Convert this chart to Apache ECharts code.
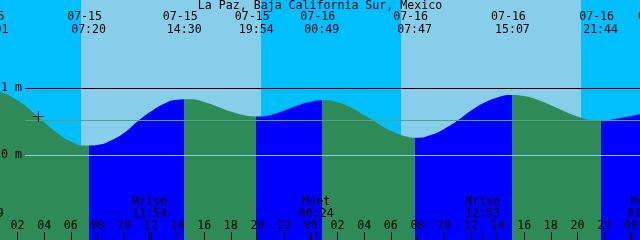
<!DOCTYPE html>
<html>
<head>
<meta charset="utf-8">
<script src="https://cdn.jsdelivr.net/npm/echarts@6/dist/echarts.min.js"></script>
<style>
html,body{margin:0;padding:0;background:#00BFFF;}
#c{width:640px;height:240px;}
</style>
</head>
<body>
<div id="c"></div>
<script>
// ---- data (hours counted from 07-15 00:00) ----
const title = 'La Paz, Baja California Sur, Mexico';

const tideDates  = ['07-15','07-15','07-15','07-15','07-16','07-16','07-16','07-16','07-17'];
const tideTimes  = ['00:01','07:20','14:30','19:54','00:49','07:47','15:07','21:44','02:09'];
const tideLevels = [0.96, 0.14, 0.84, 0.58, 0.82, 0.26, 0.90, 0.52, 0.70];

// water level, one value per hour (m)
const curveHours  = [-3,-2,-1,0,1,2,3,4,5,6,7,8,9,10,11,12,13,14,15,16,17,18,19,20,21,22,23,24,25,26,27,28,29,30,31,32,33,34,35,36,37,38,39,40,41,42,43,44,45,46,47,48,49,50,51,52];
const curveLevels = [0.80,0.88,0.94,0.96,0.924,0.82,0.669,0.494,0.331,0.206,0.145,0.155,0.22,0.335,0.505,0.652,0.77,0.83,0.835,0.794,0.725,0.652,0.597,0.58,0.603,0.668,0.742,0.80,0.82,0.79,0.715,0.60,0.48,0.365,0.29,0.262,0.303,0.394,0.519,0.665,0.785,0.864,0.90,0.884,0.829,0.748,0.659,0.581,0.531,0.523,0.548,0.585,0.63,0.67,0.69,0.70];

const moonNames = ['Mset','Mrise','Mset','Mrise','Mset'];
const moonDates = ['07-14','07-15','07-16','07-16','07-17'];
const moonTimes = ['23:39','11:54','00:24','12:53','01:02'];

const sunDates     = ['07-15','07-16'];
const sunriseTimes = ['06:46','06:46'];
const sunsetTimes  = ['20:16','20:16'];

const hourTicks = [0,2,4,6,8,10,12,14,16,18,20,22,24,26,28,30,32,34,36,38,40,42,44,46,48,50];
const midnightTicks = [0,24,48];

const levelMarks = [1, 0];
const levelMarkLabels = ['1 m', '0 m'];
const meanLevel = 0.52;
const nowDate = '07-15', nowTime = '03:34', nowLevel = 0.58;

// ---- helpers ----
function toHour(date, time) {
  const day = parseInt(date.slice(3), 10) - 15;
  const [hh, mm] = time.split(':').map(Number);
  return day * 24 + hh + mm / 60;
}
const pad2 = n => String(n).padStart(2, '0');
function nearestIndex(arr, v) {
  let best = 0;
  for (let i = 1; i < arr.length; i++) if (Math.abs(arr[i] - v) < Math.abs(arr[best] - v)) best = i;
  return best;
}

const tideHours = tideDates.map((d, i) => toHour(d, tideTimes[i]));
const moonHours = moonDates.map((d, i) => toHour(d, moonTimes[i]));
const dayBands = sunDates.map((d, i) => [toHour(d, sunriseTimes[i]), toHour(d, sunsetTimes[i])]);

// ---- layout constants ----
const FONT = 'DejaVu Sans Mono';
const FS = 11.6;
const EXTRA = 40;                 // px of plot hidden beyond each canvas edge
const PX_PER_H = 640 / 48;
const X0 = 0.6875;                // hour at canvas left edge
const xMin = X0 - EXTRA / PX_PER_H;
const xMax = X0 + (640 + EXTRA) / PX_PER_H;
const yMin = -1.264, yMax = 2.318;
const lineStartHour = X0 + 25 / PX_PER_H;

const GREEN = '#2E8B57', BLUE = '#0000FF', DAY = '#87CEEB', NIGHT = '#00BFFF';

// flood (rising, blue) / ebb (falling, green) pieces from tide extremes
const pieces = [];
for (let i = 0; i <= tideHours.length; i++) {
  let rising;
  if (i === 0) rising = tideLevels[0] > tideLevels[1];
  else if (i === tideHours.length) rising = tideLevels[i - 1] < tideLevels[i - 2];
  else rising = tideLevels[i] > tideLevels[i - 1];
  const p = { color: rising ? BLUE : GREEN };
  if (i > 0) p.gte = tideHours[i - 1];
  if (i < tideHours.length) p.lt = tideHours[i];
  pieces.push(p);
}

const txt = { fontFamily: FONT, fontSize: FS, color: '#000' };
const noLine = { show: false, onZero: false };

const chart = echarts.init(document.getElementById('c'), null, { renderer: 'canvas' });
chart.setOption({
  animation: false,
  backgroundColor: NIGHT,
  title: {
    text: title, left: 'center', top: 0, padding: 0,
    textStyle: Object.assign({ fontWeight: 'normal', lineHeight: 12 }, txt)
  },
  grid: {
    left: -EXTRA, right: -EXTRA, top: 0, bottom: 0,
    containLabel: false, outerBoundsMode: 'none',
    show: true, backgroundColor: NIGHT, borderWidth: 0
  },
  visualMap: {
    type: 'piecewise', show: false, dimension: 0, seriesIndex: 1, pieces: pieces
  },
  xAxis: [
    { // hour ticks + labels
      type: 'value', min: xMin, max: xMax, position: 'bottom', z: 10,
      axisLine: noLine, splitLine: { show: false },
      axisTick: { show: true, inside: true, length: 8, customValues: hourTicks,
        lineStyle: { color: '#000', width: 1 } },
      axisLabel: Object.assign({ show: true, inside: true, margin: 8, lineHeight: 12,
        customValues: hourTicks, formatter: v => pad2(Math.round(v) % 24) }, txt)
    },
    { // tide extremes on top
      type: 'value', min: xMin, max: xMax, position: 'top', z: 10,
      axisLine: noLine, splitLine: { show: false }, axisTick: { show: false },
      axisLabel: {
        show: true, inside: true, margin: 11, customValues: tideHours,
        formatter: v => { const i = nearestIndex(tideHours, v); return '{d|' + tideDates[i] + '}\n{t|' + tideTimes[i] + '}'; },
        rich: {
          d: Object.assign({ lineHeight: 12.5, padding: [0, 8, 0, 0] }, txt),
          t: Object.assign({ lineHeight: 12.5 }, txt)
        }
      }
    },
    { // moon events
      type: 'value', min: xMin, max: xMax, position: 'bottom', z: 10,
      axisLine: noLine, splitLine: { show: false },
      axisTick: { show: true, inside: true, length: 8, customValues: moonHours,
        lineStyle: { color: '#000', width: 1 } },
      axisLabel: Object.assign({ show: true, inside: true, margin: 20.5, lineHeight: 12,
        customValues: moonHours,
        formatter: v => { const i = nearestIndex(moonHours, v); return moonNames[i] + '\n' + moonTimes[i]; } }, txt)
    },
    { // midnight ticks
      type: 'value', min: xMin, max: xMax, position: 'bottom', z: 10,
      axisLine: noLine, splitLine: { show: false },
      axisTick: { show: true, inside: true, length: 8, customValues: midnightTicks,
        lineStyle: { color: '#000', width: 2 } },
      axisLabel: { show: false }
    }
  ],
  yAxis: { type: 'value', min: yMin, max: yMax, show: false, axisLine: { onZero: false } },
  series: [
    {
      type: 'custom', z: 0, silent: true, clip: true,
      data: dayBands,
      encode: { x: [0, 1] },
      renderItem: (params, api) => {
        const a = api.coord([api.value(0), yMax]);
        const b = api.coord([api.value(1), yMin]);
        return { type: 'rect', shape: { x: a[0], y: a[1], width: b[0] - a[0], height: b[1] - a[1] },
          style: { fill: DAY } };
      }
    },
    {
      type: 'line', z: 2, silent: true,
      data: curveHours.map((h, i) => [h, curveLevels[i]]),
      smooth: true, showSymbol: false, symbol: 'none',
      lineStyle: { width: 0, opacity: 0 },
      areaStyle: { opacity: 1, origin: 'start' },
      markLine: {
        silent: true, symbol: ['none', 'none'], animation: false,
        lineStyle: { type: 'solid', width: 1 },
        label: Object.assign({ position: 'start', distance: 3 }, txt),
        data: [
          [{ coord: [lineStartHour, levelMarks[0]], lineStyle: { color: '#000' },
             label: { show: true, formatter: levelMarkLabels[0] } }, { coord: [xMax, levelMarks[0]] }],
          [{ coord: [lineStartHour, meanLevel], lineStyle: { color: '#52A285' },
             label: { show: false } }, { coord: [xMax, meanLevel] }],
          [{ coord: [lineStartHour, levelMarks[1]], lineStyle: { color: '#87CEEB' },
             label: { show: true, formatter: levelMarkLabels[1] } }, { coord: [xMax, levelMarks[1]] }]
        ]
      }
    },
    {
      type: 'scatter', z: 6, silent: true,
      data: [[toHour(nowDate, nowTime), nowLevel]],
      symbol: 'path://M0,4.5H10V5.5H0ZM4.5,0H5.5V10H4.5Z',
      symbolSize: 11,
      itemStyle: { color: '#000' }
    }
  ]
});
</script>
</body>
</html>
